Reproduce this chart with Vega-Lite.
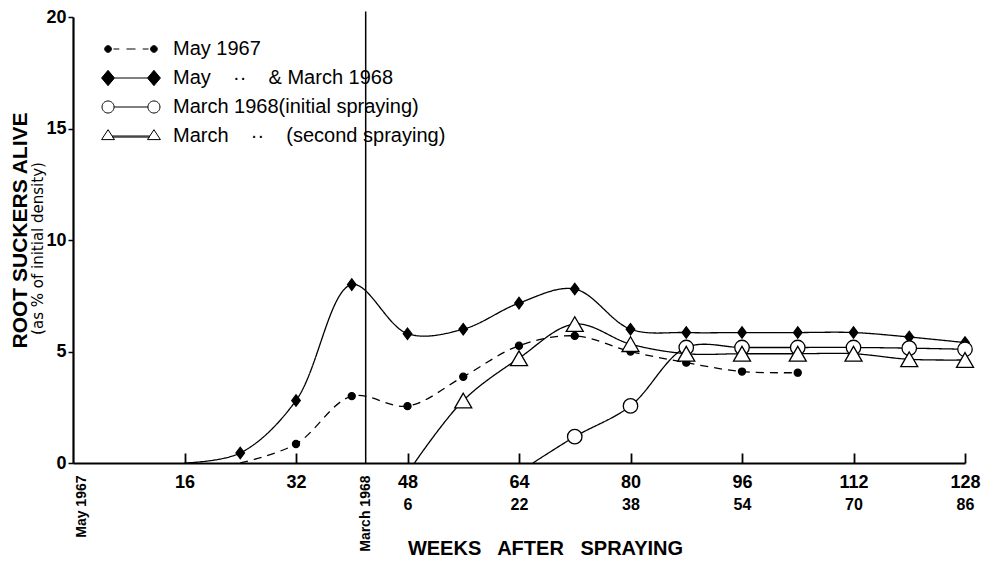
{
  "$schema": "https://vega.github.io/schema/vega-lite/v6.json",
  "width": 892,
  "height": 446,
  "autosize": {"type": "none"},
  "padding": {"left": 73, "top": 17, "right": 23, "bottom": 98},
  "background": "white",
  "config": {
    "view": {"stroke": null},
    "font": "Liberation Sans",
    "axis": {"grid": false, "domainColor": "black", "tickColor": "black", "labelColor": "black", "titleColor": "black"}
  },
  "datasets": {
    "curves": [
      {"series": "May 1967", "week": 24, "alive": 0},
      {"series": "May 1967", "week": 32, "alive": 0.85},
      {"series": "May 1967", "week": 40, "alive": 3.0},
      {"series": "May 1967", "week": 48, "alive": 2.55},
      {"series": "May 1967", "week": 56, "alive": 3.87},
      {"series": "May 1967", "week": 64, "alive": 5.26},
      {"series": "May 1967", "week": 72, "alive": 5.7},
      {"series": "May 1967", "week": 80, "alive": 5.0},
      {"series": "May 1967", "week": 88, "alive": 4.5},
      {"series": "May 1967", "week": 96, "alive": 4.1},
      {"series": "May 1967", "week": 104, "alive": 4.05},
      {"series": "May\u00a0\u00a0\u00a0\u00a0··\u00a0\u00a0\u00a0\u00a0&\u00a0March 1968", "week": 16, "alive": 0},
      {"series": "May\u00a0\u00a0\u00a0\u00a0··\u00a0\u00a0\u00a0\u00a0&\u00a0March 1968", "week": 24, "alive": 0.45},
      {"series": "May\u00a0\u00a0\u00a0\u00a0··\u00a0\u00a0\u00a0\u00a0&\u00a0March 1968", "week": 32, "alive": 2.8},
      {"series": "May\u00a0\u00a0\u00a0\u00a0··\u00a0\u00a0\u00a0\u00a0&\u00a0March 1968", "week": 40, "alive": 8.0},
      {"series": "May\u00a0\u00a0\u00a0\u00a0··\u00a0\u00a0\u00a0\u00a0&\u00a0March 1968", "week": 48, "alive": 5.8},
      {"series": "May\u00a0\u00a0\u00a0\u00a0··\u00a0\u00a0\u00a0\u00a0&\u00a0March 1968", "week": 56, "alive": 6.0},
      {"series": "May\u00a0\u00a0\u00a0\u00a0··\u00a0\u00a0\u00a0\u00a0&\u00a0March 1968", "week": 64, "alive": 7.17},
      {"series": "May\u00a0\u00a0\u00a0\u00a0··\u00a0\u00a0\u00a0\u00a0&\u00a0March 1968", "week": 72, "alive": 7.8},
      {"series": "May\u00a0\u00a0\u00a0\u00a0··\u00a0\u00a0\u00a0\u00a0&\u00a0March 1968", "week": 80, "alive": 6.0},
      {"series": "May\u00a0\u00a0\u00a0\u00a0··\u00a0\u00a0\u00a0\u00a0&\u00a0March 1968", "week": 88, "alive": 5.85},
      {"series": "May\u00a0\u00a0\u00a0\u00a0··\u00a0\u00a0\u00a0\u00a0&\u00a0March 1968", "week": 96, "alive": 5.85},
      {"series": "May\u00a0\u00a0\u00a0\u00a0··\u00a0\u00a0\u00a0\u00a0&\u00a0March 1968", "week": 104, "alive": 5.85},
      {"series": "May\u00a0\u00a0\u00a0\u00a0··\u00a0\u00a0\u00a0\u00a0&\u00a0March 1968", "week": 112, "alive": 5.85},
      {"series": "May\u00a0\u00a0\u00a0\u00a0··\u00a0\u00a0\u00a0\u00a0&\u00a0March 1968", "week": 120, "alive": 5.65},
      {"series": "May\u00a0\u00a0\u00a0\u00a0··\u00a0\u00a0\u00a0\u00a0&\u00a0March 1968", "week": 128, "alive": 5.4},
      {"series": "March 1968(initial spraying)", "week": 66, "alive": 0},
      {"series": "March 1968(initial spraying)", "week": 72, "alive": 1.18},
      {"series": "March 1968(initial spraying)", "week": 80, "alive": 2.56},
      {"series": "March 1968(initial spraying)", "week": 88, "alive": 5.18},
      {"series": "March 1968(initial spraying)", "week": 96, "alive": 5.18},
      {"series": "March 1968(initial spraying)", "week": 104, "alive": 5.18},
      {"series": "March 1968(initial spraying)", "week": 112, "alive": 5.18},
      {"series": "March 1968(initial spraying)", "week": 120, "alive": 5.15},
      {"series": "March 1968(initial spraying)", "week": 128, "alive": 5.1},
      {"series": "March\u00a0\u00a0\u00a0\u00a0··\u00a0\u00a0\u00a0\u00a0(second spraying)", "week": 49, "alive": 0},
      {"series": "March\u00a0\u00a0\u00a0\u00a0··\u00a0\u00a0\u00a0\u00a0(second spraying)", "week": 56, "alive": 2.8},
      {"series": "March\u00a0\u00a0\u00a0\u00a0··\u00a0\u00a0\u00a0\u00a0(second spraying)", "week": 64, "alive": 4.7},
      {"series": "March\u00a0\u00a0\u00a0\u00a0··\u00a0\u00a0\u00a0\u00a0(second spraying)", "week": 72, "alive": 6.23},
      {"series": "March\u00a0\u00a0\u00a0\u00a0··\u00a0\u00a0\u00a0\u00a0(second spraying)", "week": 80, "alive": 5.33},
      {"series": "March\u00a0\u00a0\u00a0\u00a0··\u00a0\u00a0\u00a0\u00a0(second spraying)", "week": 88, "alive": 4.9},
      {"series": "March\u00a0\u00a0\u00a0\u00a0··\u00a0\u00a0\u00a0\u00a0(second spraying)", "week": 96, "alive": 4.9},
      {"series": "March\u00a0\u00a0\u00a0\u00a0··\u00a0\u00a0\u00a0\u00a0(second spraying)", "week": 104, "alive": 4.9},
      {"series": "March\u00a0\u00a0\u00a0\u00a0··\u00a0\u00a0\u00a0\u00a0(second spraying)", "week": 112, "alive": 4.9},
      {"series": "March\u00a0\u00a0\u00a0\u00a0··\u00a0\u00a0\u00a0\u00a0(second spraying)", "week": 120, "alive": 4.65},
      {"series": "March\u00a0\u00a0\u00a0\u00a0··\u00a0\u00a0\u00a0\u00a0(second spraying)", "week": 128, "alive": 4.62}
    ]
  },
  "resolve": {
    "scale": {"shape": "independent", "fill": "independent"},
    "axis": {"x": "independent", "y": "independent"}
  },
  "layer": [
    {
      "data": {"name": "curves"},
      "mark": {"type": "line", "interpolate": "catmull-rom", "color": "black"},
      "encoding": {
        "x": {
          "field": "week", "type": "quantitative",
          "scale": {"domain": [0, 128], "nice": false, "zero": false},
          "axis": {
            "orient": "bottom",
            "values": [16, 32, 48, 64, 80, 96, 112, 128],
            "ticks": false, "domainWidth": 2.2,
            "labelFontSize": 18, "labelFontWeight": "bold", "labelBaseline": "middle",
            "labelPadding": 19, "labelFlush": false, "labelOverlap": false,
            "title": "WEEKS\u00a0\u00a0 AFTER\u00a0\u00a0 SPRAYING",
            "titleFontSize": 20, "titleFontWeight": "bold",
            "titleX": 472, "titleY": 85, "titleBaseline": "middle", "titleAlign": "center"
          }
        },
        "y": {
          "field": "alive", "type": "quantitative",
          "scale": {"domain": [0, 20], "nice": false},
          "axis": {
            "orient": "left",
            "values": [0, 5, 10, 15, 20],
            "tickSize": 5, "tickWidth": 1.5, "domainWidth": 2.2,
            "labelFontSize": 18, "labelFontWeight": "bold", "labelPadding": 2,
            "title": "ROOT SUCKERS ALIVE",
            "titleFontSize": 21, "titleFontWeight": "bold",
            "titleX": -53, "titleY": 213, "titleAngle": 270,
            "titleBaseline": "middle", "titleAlign": "center"
          }
        },
        "strokeDash": {
          "field": "series", "type": "nominal",
          "scale": {
            "domain": ["May 1967", "May\u00a0\u00a0\u00a0\u00a0··\u00a0\u00a0\u00a0\u00a0&\u00a0March 1968", "March 1968(initial spraying)", "March\u00a0\u00a0\u00a0\u00a0··\u00a0\u00a0\u00a0\u00a0(second spraying)"],
            "range": [[8, 6], [1, 0], [1, 0], [1, 0]]
          },
          "legend": null
        },
        "strokeWidth": {
          "field": "series", "type": "ordinal",
          "scale": {
            "domain": ["May 1967", "May\u00a0\u00a0\u00a0\u00a0··\u00a0\u00a0\u00a0\u00a0&\u00a0March 1968", "March 1968(initial spraying)", "March\u00a0\u00a0\u00a0\u00a0··\u00a0\u00a0\u00a0\u00a0(second spraying)"],
            "range": [1.3, 1.3, 1.3, 2.2]
          },
          "legend": null
        }
      }
    },
    {
      "data": {"values": [{"event": "March 1968", "week": 42, "bottom": 0, "top": 20.25}]},
      "mark": {"type": "rule", "color": "black", "strokeWidth": 1.5},
      "encoding": {
        "x": {
          "field": "week", "type": "quantitative",
          "axis": {
            "orient": "bottom",
            "values": [0, 42],
            "labelExpr": "datum.value == 0 ? 'May 1967' : 'March 1968'",
            "labelAngle": 270, "labelAlign": "right", "labelBaseline": "middle",
            "labelPadding": 12, "labelFontSize": 14, "labelFontWeight": "bold",
            "labelOffset": {"condition": {"test": "datum.value == 0", "value": 8}, "value": 0},
            "ticks": false, "domain": false, "title": null,
            "labelFlush": false, "labelOverlap": false
          }
        },
        "y": {"field": "bottom", "type": "quantitative", "axis": null},
        "y2": {"field": "top"}
      }
    },
    {
      "data": {"name": "curves"},
      "transform": [{"filter": "datum.alive > 0"}],
      "mark": {"type": "point", "filled": true, "stroke": "black", "strokeWidth": 1.3, "opacity": 1},
      "encoding": {
        "x": {
          "field": "week", "type": "quantitative",
          "axis": {
            "orient": "bottom",
            "values": [48, 64, 80, 96, 112, 128],
            "labelExpr": "{'48': '6', '64': '22', '80': '38', '96': '54', '112': '70', '128': '86'}[datum.label]",
            "ticks": false, "domain": false, "title": null,
            "labelFontSize": 16, "labelFontWeight": "bold", "labelBaseline": "middle",
            "labelPadding": 41, "labelFlush": false, "labelOverlap": false
          }
        },
        "y": {
          "field": "alive", "type": "quantitative",
          "axis": {
            "orient": "left",
            "title": "(as % of initial density)",
            "labels": false, "ticks": false, "domain": false,
            "titleFont": "DejaVu Sans", "titleFontSize": 15, "titleFontWeight": "normal",
            "titleX": -36, "titleY": 231, "titleAngle": 270,
            "titleBaseline": "middle", "titleAlign": "center"
          }
        },
        "shape": {
          "field": "series", "type": "nominal",
          "scale": {
            "domain": ["May 1967", "May\u00a0\u00a0\u00a0\u00a0··\u00a0\u00a0\u00a0\u00a0&\u00a0March 1968", "March 1968(initial spraying)", "March\u00a0\u00a0\u00a0\u00a0··\u00a0\u00a0\u00a0\u00a0(second spraying)"],
            "range": ["circle", "M -0.75 0 L 0 -1 L 0.75 0 L 0 1 Z", "circle", "triangle-up"]
          },
          "legend": null
        },
        "fill": {
          "field": "series", "type": "nominal",
          "scale": {
            "domain": ["May 1967", "May\u00a0\u00a0\u00a0\u00a0··\u00a0\u00a0\u00a0\u00a0&\u00a0March 1968", "March 1968(initial spraying)", "March\u00a0\u00a0\u00a0\u00a0··\u00a0\u00a0\u00a0\u00a0(second spraying)"],
            "range": ["black", "black", "white", "white"]
          },
          "legend": null
        },
        "size": {
          "field": "series", "type": "ordinal",
          "scale": {
            "domain": ["May 1967", "May\u00a0\u00a0\u00a0\u00a0··\u00a0\u00a0\u00a0\u00a0&\u00a0March 1968", "March 1968(initial spraying)", "March\u00a0\u00a0\u00a0\u00a0··\u00a0\u00a0\u00a0\u00a0(second spraying)"],
            "range": [50, 289, 169, 130]
          },
          "legend": null
        }
      }
    },
    {
      "data": {"name": "curves"},
      "transform": [{"filter": "datum.week < 0"}],
      "mark": {"type": "point", "filled": true, "stroke": "black", "strokeWidth": 1, "opacity": 1, "size": 324},
      "encoding": {
        "x": {
          "field": "week", "type": "quantitative",
          "axis": {
            "orient": "bottom", "offset": -10,
            "values": [16, 32, 48, 64, 80, 96, 112, 128],
            "ticks": true, "tickSize": 10, "tickWidth": 1.8, "tickCap": "butt",
            "domain": false, "labels": false, "title": null
          }
        },
        "y": {"field": "alive", "type": "quantitative", "axis": null},
        "shape": {
          "field": "series", "type": "nominal",
          "scale": {
            "domain": ["May 1967", "May\u00a0\u00a0\u00a0\u00a0··\u00a0\u00a0\u00a0\u00a0&\u00a0March 1968", "March 1968(initial spraying)", "March\u00a0\u00a0\u00a0\u00a0··\u00a0\u00a0\u00a0\u00a0(second spraying)"],
            "range": [
              "M -2.18 0 A 0.37 0.37 0 1 1 -2.92 0 A 0.37 0.37 0 1 1 -2.18 0 Z M 2.92 0 A 0.37 0.37 0 1 1 2.18 0 A 0.37 0.37 0 1 1 2.92 0 Z M -1.95 0 L -1.3 0 M -0.5 0 L 0.5 0 M 1.3 0 L 1.95 0",
              "M -3.27 0 L -2.55 -0.85 L -1.83 0 L -2.55 0.85 Z M 1.83 0 L 2.55 -0.85 L 3.27 0 L 2.55 0.85 Z M -1.83 0 L 1.83 0",
              "M -1.88 0 A 0.67 0.67 0 1 1 -3.22 0 A 0.67 0.67 0 1 1 -1.88 0 Z M 3.22 0 A 0.67 0.67 0 1 1 1.88 0 A 0.67 0.67 0 1 1 3.22 0 Z M -1.88 0 L 1.88 0",
              "M -3.27 0.4 L -2.55 -0.7 L -1.83 0.4 Z M 1.83 0.4 L 2.55 -0.7 L 3.27 0.4 Z M -2.09 0 L 2.09 0 M -2.09 0.12 L 2.09 0.12"
            ]
          },
          "legend": {
            "title": null, "orient": "none", "legendX": 48, "legendY": 22, "padding": 0,
            "symbolSize": 324, "symbolStrokeColor": "black", "symbolStrokeWidth": 1, "symbolOpacity": 1,
            "labelFont": "Liberation Sans", "labelFontSize": 20, "labelColor": "black",
            "labelOffset": 32, "rowPadding": 9, "labelLimit": 500,
            "encode": {"symbols": {"update": {"stroke": {"value": "black"}, "strokeWidth": {"value": 1}}}}
          }
        },
        "fill": {
          "field": "series", "type": "nominal",
          "scale": {
            "domain": ["May 1967", "May\u00a0\u00a0\u00a0\u00a0··\u00a0\u00a0\u00a0\u00a0&\u00a0March 1968", "March 1968(initial spraying)", "March\u00a0\u00a0\u00a0\u00a0··\u00a0\u00a0\u00a0\u00a0(second spraying)"],
            "range": ["black", "black", "white", "white"]
          },
          "legend": {
            "title": null, "orient": "none", "legendX": 48, "legendY": 22, "padding": 0,
            "symbolSize": 324, "symbolStrokeColor": "black", "symbolStrokeWidth": 1, "symbolOpacity": 1,
            "labelFont": "Liberation Sans", "labelFontSize": 20, "labelColor": "black",
            "labelOffset": 32, "rowPadding": 9, "labelLimit": 500,
            "encode": {"symbols": {"update": {"stroke": {"value": "black"}, "strokeWidth": {"value": 1}}}}
          }
        }
      }
    }
  ]
}
